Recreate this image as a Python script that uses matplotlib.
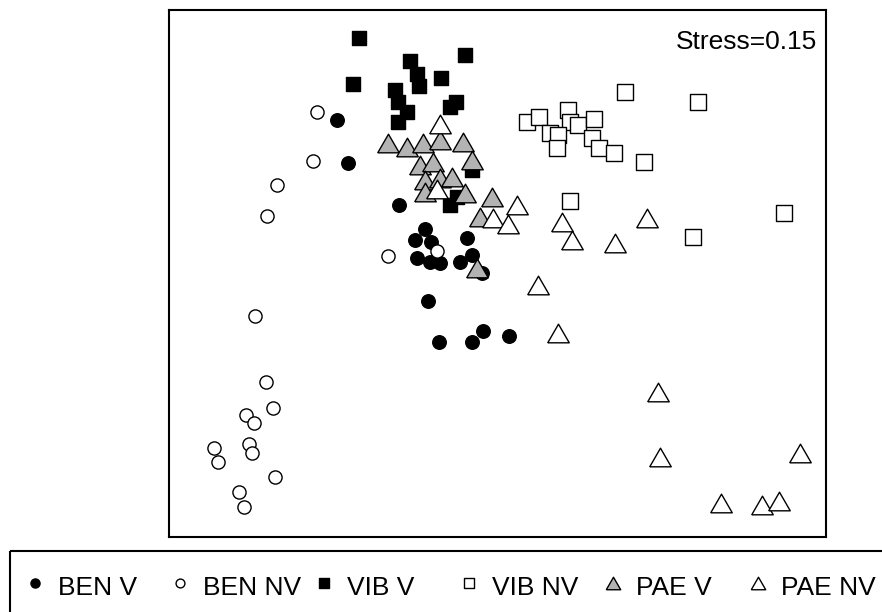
import numpy as np
import matplotlib.pyplot as plt
from matplotlib.patches import Rectangle

plt.rcParams['font.family'] = ['Liberation Sans', 'DejaVu Sans']

# NMDS scores (plot units, y grows downwards)
ben_v_x = [337, 348, 399, 425, 415, 431, 417, 430, 440, 467, 460, 472, 482, 428, 439, 472, 483, 509]
ben_v_y = [120, 163, 205, 229, 240, 242, 258, 262, 263, 238, 262, 255, 273, 301, 342, 342, 331, 336]

ben_nv_x = [317, 313, 277, 267, 388, 437, 255, 266, 273, 246, 254, 249, 252, 214, 218, 275, 239, 244]
ben_nv_y = [112, 161, 185, 216, 256, 251, 316, 382, 408, 415, 423, 444, 453, 448, 462, 477, 492, 507]

vib_v_x = [359, 353, 410, 417, 419, 441, 465, 395, 398, 407, 398, 450, 456, 472, 450, 457]
vib_v_y = [38, 84, 61, 74, 86, 78, 55, 90, 102, 112, 122, 107, 102, 170, 205, 197]

vib_nv_x = [625, 698, 527, 539, 568, 570, 578, 594, 550, 558, 557, 592, 599, 614, 644, 570, 784, 693]
vib_nv_y = [92, 102, 122, 117, 110, 122, 125, 119, 133, 135, 148, 138, 148, 153, 162, 201, 213, 237]

pae_v_x = [388, 407, 423, 440, 463, 472, 420, 433, 425, 440, 452, 425, 465, 492, 480, 477]
pae_v_y = [143, 147, 143, 140, 142, 160, 165, 162, 180, 178, 177, 192, 193, 197, 217, 268]

pae_nv_x = [440, 437, 517, 493, 508, 562, 572, 647, 615, 538, 558, 658, 660, 800, 721, 762, 779]
pae_nv_y = [124, 189, 205, 218, 224, 222, 240, 218, 243, 285, 333, 392, 457, 453, 503, 505, 501]

labels = ['BEN V', 'BEN NV', 'VIB V', 'VIB NV', 'PAE V', 'PAE NV']
stress = 0.15

tri = [(-1, -0.866), (1, -0.866), (0, 0.866), (-1, -0.866)]
styles = [
    dict(marker='o', fc='black', s=95),
    dict(marker='o', fc='white', s=90),
    dict(marker='s', fc='black', s=110),
    dict(marker='s', fc='white', s=135),
    dict(marker=tri, fc='#b3b3b3', s=240),
    dict(marker=tri, fc='white', s=240),
]
groups = [(ben_v_x, ben_v_y), (ben_nv_x, ben_nv_y), (vib_v_x, vib_v_y),
          (vib_nv_x, vib_nv_y), (pae_v_x, pae_v_y), (pae_nv_x, pae_nv_y)]

fig = plt.figure(figsize=(8.82, 6.12), dpi=100)
ax = fig.add_axes([169 / 882, 1 - 537 / 612, 657 / 882, 527 / 612])

for (gx, gy), st in zip(groups, styles):
    ax.scatter(gx, gy, marker=st['marker'], s=st['s'], facecolors=st['fc'],
               edgecolors='black', linewidths=1.0, zorder=3)

ax.set_xlim(169, 826)
ax.set_ylim(537, 10)
ax.set_xticks([])
ax.set_yticks([])
for sp in ax.spines.values():
    sp.set_linewidth(1.5)

ax.text(0.986, 0.926, 'Stress=%.2f' % stress, transform=ax.transAxes,
        ha='right', va='baseline', fontsize=19)

# legend drawn by hand, R style, equal column spacing
lax = fig.add_axes([0, 0, 1, 1], zorder=5)
lax.set_xlim(0, 882)
lax.set_ylim(612, 0)
lax.axis('off')
lax.add_patch(Rectangle((10, 551), 900, 80, fill=False, lw=1.5, ec='black'))
for i, (lab, st) in enumerate(zip(labels, styles)):
    mx = 35 + 144.6 * i
    lax.scatter([mx], [583], marker=st['marker'], s=st['s'] * 0.45,
                facecolors=st['fc'], edgecolors='black', linewidths=1.0)
    lax.text(mx + 23, 595, lab, ha='left', va='baseline', fontsize=19)

fig.savefig('out.png', dpi=100)
